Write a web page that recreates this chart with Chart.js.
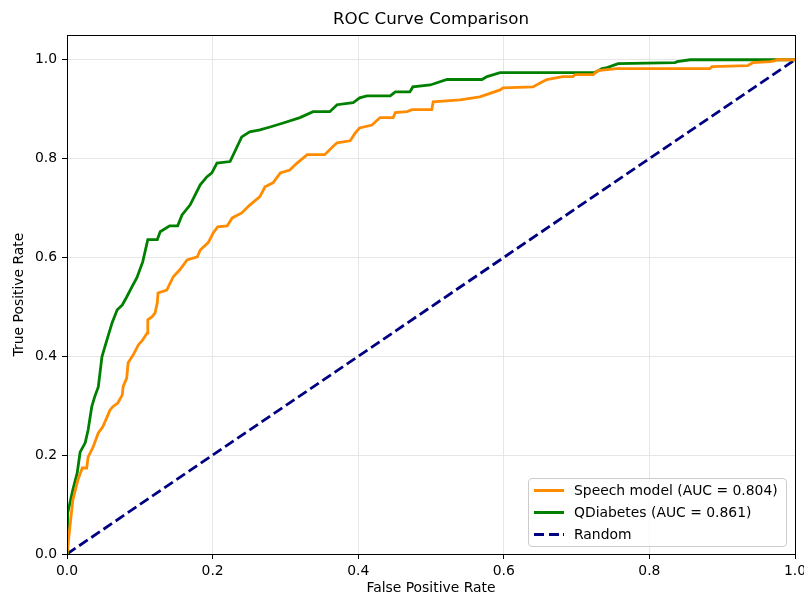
<!DOCTYPE html>
<html>
<head>
<meta charset="utf-8">
<script src="https://cdn.jsdelivr.net/npm/chart.js@4"></script>
<style>
  html, body { margin: 0; padding: 0; background: #fff; }
  #wrap { position: relative; width: 804px; height: 597px; overflow: hidden; }
  #legend {
    position: absolute; left: 528px; top: 478px; width: 259px; height: 69px;
    border: 1px solid #cccccc; border-radius: 4px; background: rgba(255,255,255,0.8);
    font-family: "DejaVu Sans", sans-serif; font-size: 13.9px; color: #000;
    box-sizing: border-box;
  }
  .row { position: absolute; left: 0; height: 22px; display: flex; align-items: center; white-space: nowrap; }
  .swatch { width: 30px; height: 3px; margin-left: 5px; margin-right: 10px; }
</style>
</head>
<body>
<div id="wrap">
  <canvas id="roc" width="804" height="597"></canvas>
  <div id="legend"></div>
</div>
<script>
const chartTitle = "ROC Curve Comparison";
const xLabel = "False Positive Rate";
const yLabel = "True Positive Rate";

const speechLabel = "Speech model (AUC = 0.804)";
const speechFpr = [0, 0.004, 0.008, 0.015, 0.021, 0.027, 0.029, 0.036, 0.043, 0.049, 0.055, 0.059, 0.063, 0.070,
  0.076, 0.077, 0.082, 0.084, 0.091, 0.098, 0.104, 0.110, 0.111, 0.117, 0.121, 0.124, 0.125, 0.137, 0.146,
  0.155, 0.165, 0.179, 0.183, 0.194, 0.201, 0.207, 0.220, 0.227, 0.240, 0.251, 0.265, 0.272, 0.283, 0.293,
  0.306, 0.316, 0.330, 0.354, 0.365, 0.371, 0.389, 0.396, 0.402, 0.419, 0.430, 0.448, 0.451, 0.467, 0.474,
  0.501, 0.503, 0.540, 0.567, 0.595, 0.599, 0.640, 0.650, 0.659, 0.681, 0.695, 0.698, 0.723, 0.729, 0.755,
  0.883, 0.886, 0.935, 0.942, 0.966, 0.973, 0.975, 1.0];
const speechTpr = [0, 0.055, 0.109, 0.150, 0.174, 0.174, 0.196, 0.217, 0.245, 0.257, 0.277, 0.291, 0.298, 0.306,
  0.322, 0.338, 0.356, 0.387, 0.403, 0.423, 0.433, 0.447, 0.474, 0.480, 0.488, 0.508, 0.528, 0.534, 0.561,
  0.575, 0.595, 0.601, 0.615, 0.630, 0.650, 0.662, 0.664, 0.680, 0.690, 0.706, 0.723, 0.743, 0.751, 0.771,
  0.777, 0.791, 0.808, 0.808, 0.824, 0.832, 0.836, 0.852, 0.862, 0.868, 0.883, 0.883, 0.893, 0.895, 0.899,
  0.899, 0.915, 0.919, 0.925, 0.939, 0.943, 0.945, 0.953, 0.960, 0.966, 0.966, 0.970, 0.970, 0.978, 0.982,
  0.982, 0.986, 0.988, 0.994, 0.996, 0.998, 1.0, 1.0];

const qdLabel = "QDiabetes (AUC = 0.861)";
const qdFpr = [0, 0.001, 0.008, 0.014, 0.018, 0.025, 0.029, 0.034, 0.038, 0.043, 0.048, 0.052, 0.056, 0.062,
  0.069, 0.076, 0.082, 0.089, 0.096, 0.104, 0.111, 0.124, 0.128, 0.141, 0.152, 0.158, 0.169, 0.183, 0.192,
  0.199, 0.206, 0.224, 0.240, 0.251, 0.265, 0.279, 0.297, 0.320, 0.338, 0.361, 0.371, 0.393, 0.402, 0.412,
  0.444, 0.451, 0.471, 0.475, 0.499, 0.522, 0.570, 0.577, 0.595, 0.725, 0.735, 0.742, 0.757, 0.835, 0.838,
  0.856, 1.0];
const qdTpr = [0, 0.083, 0.130, 0.164, 0.206, 0.225, 0.251, 0.298, 0.318, 0.338, 0.399, 0.419, 0.439, 0.468,
  0.494, 0.504, 0.520, 0.540, 0.559, 0.591, 0.636, 0.636, 0.652, 0.664, 0.664, 0.686, 0.706, 0.747, 0.763,
  0.771, 0.791, 0.794, 0.844, 0.854, 0.858, 0.864, 0.872, 0.883, 0.895, 0.895, 0.909, 0.913, 0.923, 0.927,
  0.927, 0.935, 0.935, 0.945, 0.949, 0.960, 0.960, 0.966, 0.974, 0.974, 0.982, 0.984, 0.992, 0.994, 0.996,
  1.0, 1.0];

const randomLabel = "Random";
const randomFpr = [0, 1];
const randomTpr = [0, 1];

const xTicks = [0, 0.2, 0.4, 0.6, 0.8, 1.0];
const yTicks = [0, 0.2, 0.4, 0.6, 0.8, 1.0];

function toPoints(xs, ys) {
  return xs.map((x, i) => ({ x: x, y: ys[i] }));
}

const font = "DejaVu Sans";

// matplotlib style box around the plot area
const framePlugin = {
  id: "frame",
  afterDatasetsDraw(chart) {
    const a = chart.chartArea;
    const ctx = chart.ctx;
    ctx.save();
    ctx.strokeStyle = "#000";
    ctx.lineWidth = 1;
    ctx.strokeRect(Math.round(a.left) + 0.5, Math.round(a.top) + 0.5,
      Math.round(a.right - a.left), Math.round(a.bottom - a.top));
    ctx.restore();
  }
};

const ctx = document.getElementById("roc").getContext("2d");
const chart = new Chart(ctx, {
  type: "line",
  data: {
    datasets: [
      { label: speechLabel, data: toPoints(speechFpr, speechTpr), borderColor: "#ff8c00", borderWidth: 2.8 },
      { label: qdLabel, data: toPoints(qdFpr, qdTpr), borderColor: "#008000", borderWidth: 2.8 },
      { label: randomLabel, data: toPoints(randomFpr, randomTpr), borderColor: "#000080", borderWidth: 2.8, borderDash: [10.3, 4.4] }
    ]
  },
  options: {
    responsive: false,
    animation: false,
    elements: { point: { radius: 0 }, line: { tension: 0, borderCapStyle: "butt" } },
    layout: { padding: { left: 0, right: 9, top: 0, bottom: 0 } },
    plugins: {
      legend: { display: false },
      tooltip: { enabled: false },
      title: {
        display: true,
        text: chartTitle,
        fullSize: false,
        color: "#000",
        font: { family: font, size: 16.7, weight: "normal" },
        padding: { top: 10, bottom: 5 }
      }
    },
    scales: {
      x: {
        type: "linear",
        min: 0,
        max: 1,
        afterBuildTicks: s => { s.ticks = xTicks.map(v => ({ value: v })); },
        afterFit: s => { s.height = 43; s.paddingLeft = 0; s.paddingRight = 0; },
        ticks: { color: "#000", padding: 4, maxRotation: 0, font: { family: font, size: 13.9 }, callback: v => v.toFixed(1) },
        grid: { color: "#e6e6e6", tickColor: "#000", tickLength: 5 },
        border: { color: "#000" },
        title: { display: true, text: xLabel, color: "#000", font: { family: font, size: 13.9 }, padding: { top: 0, bottom: 0 } }
      },
      y: {
        type: "linear",
        min: 0,
        max: 1.05,
        afterBuildTicks: s => { s.ticks = yTicks.map(v => ({ value: v })); },
        afterFit: s => { s.width = 67; s.paddingTop = 0; s.paddingBottom = 0; },
        ticks: { color: "#000", padding: 5, font: { family: font, size: 13.9 }, callback: v => v.toFixed(1) },
        grid: { color: "#e6e6e6", tickColor: "#000", tickLength: 5 },
        border: { color: "#000" },
        title: { display: true, text: yLabel, color: "#000", font: { family: font, size: 13.9 }, padding: { top: 11, bottom: 0 } }
      }
    }
  },
  plugins: [framePlugin]
});

// legend in the lower right of the plot, built from the datasets
const legendEl = document.getElementById("legend");
chart.data.datasets.forEach((ds, i) => {
  const row = document.createElement("div");
  row.className = "row";
  row.style.top = (i * 22) + "px";
  const sw = document.createElement("div");
  sw.className = "swatch";
  if (ds.borderDash) {
    sw.style.background = "repeating-linear-gradient(to right, " + ds.borderColor + " 0 10.3px, transparent 10.3px 14.7px)";
  } else {
    sw.style.background = ds.borderColor;
  }
  const txt = document.createElement("span");
  txt.textContent = ds.label;
  row.appendChild(sw);
  row.appendChild(txt);
  legendEl.appendChild(row);
});
</script>
</body>
</html>
